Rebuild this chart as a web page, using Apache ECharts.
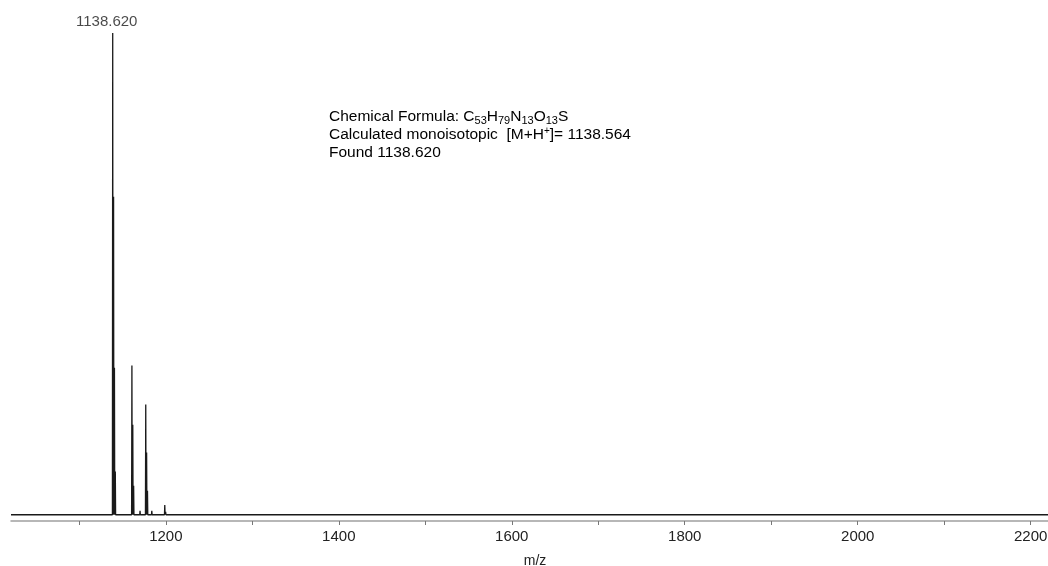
<!DOCTYPE html>
<html>
<head>
<meta charset="utf-8">
<script src="https://cdn.jsdelivr.net/npm/echarts@6/dist/echarts.min.js"></script>
<style>
html,body{margin:0;padding:0;background:#fff;}
#c{width:1048px;height:566px;}
</style>
</head>
<body>
<div id="c"></div>
<script>
// ---- data ----
const peakMz  = [1138.6, 1139.6, 1140.6, 1141.6, 1160.8, 1161.8, 1162.8, 1170.2, 1176.8, 1177.8, 1178.8, 1183.8, 1198.8, 1199.8];
const peakInt = [100,    66,     30.5,   9,      31,     18.7,   6,      0.8,    22.9,   12.9,   5,      0.8,    2.0,    0.6];
const xRange = [1021, 2220];
const tickValues  = [1100, 1200, 1300, 1400, 1500, 1600, 1700, 1800, 1900, 2000, 2100, 2200];
const labelValues = [1200, 1400, 1600, 1800, 2000, 2200];
const xAxisTitle = 'm/z';
const peakLabel = '1138.620';
const annotationLines = [
  ['Chemical Formula: C', {sub:'53'}, 'H', {sub:'79'}, 'N', {sub:'13'}, 'O', {sub:'13'}, 'S'],
  ['Calculated monoisotopic  [M+H', {sup:'+'}, ']= 1138.564'],
  ['Found 1138.620']
];

// ---- build the stick/profile line ----
const lineData = [[xRange[0], 0]];
const order = peakMz.map((m, i) => i).sort((a, b) => peakMz[a] - peakMz[b]);
order.forEach(i => {
  lineData.push([peakMz[i] - 0.35, 0]);
  lineData.push([peakMz[i], peakInt[i]]);
  lineData.push([peakMz[i] + 0.35, 0]);
});
lineData.push([xRange[1], 0]);

const richText = annotationLines.map(parts => parts.map(p => {
  if (typeof p === 'string') return '{n|' + p + '}';
  if (p.sub) return '{sub|' + p.sub + '}';
  return '{sup|' + p.sup + '}';
}).join('')).join('\n');

const FONT = "'Liberation Sans', Arial, Helvetica, sans-serif";
const chart = echarts.init(document.getElementById('c'), null, {renderer: 'canvas'});
chart.setOption({
  animation: false,
  backgroundColor: '#fff',
  grid: {left: 11, right: 0, top: 33, bottom: 45, containLabel: false, outerBoundsMode: 'none'},
  xAxis: {
    type: 'value',
    min: xRange[0], max: xRange[1],
    name: xAxisTitle,
    nameLocation: 'middle',
    nameGap: 33,
    nameTextStyle: {color: '#222', fontSize: 14, fontFamily: FONT, padding: [0, 0, 0, 11]},
    axisLine: {show: true, onZero: false, lineStyle: {color: '#a0a0a0', width: 1.5}},
    axisTick: {show: true, length: 4, inside: false, customValues: tickValues, lineStyle: {color: '#777', width: 1}},
    axisLabel: {show: true, customValues: labelValues, margin: 8, color: '#222', fontSize: 15, fontFamily: FONT,
      formatter: v => String(v)},
    splitLine: {show: false}
  },
  yAxis: {
    type: 'value', min: -1.3, max: 100,
    show: false, splitLine: {show: false}
  },
  series: [
    {
      type: 'line',
      data: lineData,
      showSymbol: false,
      symbol: 'none',
      lineStyle: {color: '#1a1a1a', width: 1.3},
      silent: true
    },
    {
      type: 'scatter',
      data: [[peakMz[0], peakInt[0]]],
      symbolSize: 0,
      label: {
        show: true, position: 'top', distance: 4, offset: [-6, 0],
        formatter: () => peakLabel,
        color: '#1a1a1a', fontSize: 15, fontFamily: FONT
      },
      silent: true
    }
  ],
  graphic: [{
    type: 'text',
    left: 329, top: 109,
    style: {
      text: richText,
      fontFamily: FONT,
      rich: {
        n:   {fontSize: 15.5, lineHeight: 18, color: '#222', fontFamily: FONT},
        sub: {fontSize: 11, color: '#222', fontFamily: FONT, verticalAlign: 'bottom', lineHeight: 14},
        sup: {fontSize: 10, color: '#222', fontFamily: FONT, verticalAlign: 'top', lineHeight: 14}
      }
    }
  }]
});
</script>
</body>
</html>
